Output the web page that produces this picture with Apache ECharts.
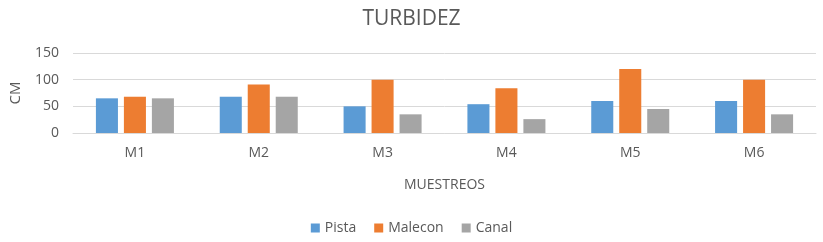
<!DOCTYPE html>
<html><head><meta charset="utf-8">
<script src="https://cdn.jsdelivr.net/npm/echarts@6/dist/echarts.min.js"></script>
<style>html,body{margin:0;padding:0;background:#fff}#c{width:823px;height:242px}</style>
</head><body><div id="c"></div>
<script>
const categories = ['M1','M2','M3','M4','M5','M6'];
const pista = [65, 68, 50, 54, 60, 60];
const malecon = [68, 91, 100, 84, 120, 100];
const canal = [65, 68, 35, 26, 45, 35];
const yTicks = [0, 50, 100, 150];

const font = 'Open Sans';
const chart = echarts.init(document.getElementById('c'), null, {renderer:'canvas'});
chart.setOption({
  animation: false,
  title: { text: 'TURBIDEZ', left: 'center', top: 4,
    textStyle: { fontFamily: font, fontSize: 21, fontWeight: 'normal', color: '#595959' } },
  legend: { bottom: 2, left: 'center', itemWidth: 9, itemHeight: 9, itemGap: 18, icon: 'rect',
    textStyle: { fontFamily: font, fontSize: 14, color: '#595959' } },
  grid: { left: 70, right: 7, top: 53, bottom: 109 },
  xAxis: { type: 'category', data: categories,
    name: 'MUESTREOS', nameLocation: 'middle', nameGap: 45,
    nameTextStyle: { fontFamily: font, fontSize: 14, color: '#595959' },
    axisLine: { lineStyle: { color: '#d9d9d9' } }, axisTick: { show: false },
    axisLabel: { fontFamily: font, fontSize: 14, color: '#595959', margin: 13 } },
  yAxis: { type: 'value', min: yTicks[0], max: yTicks[yTicks.length-1], interval: 50,
    name: 'CM', nameLocation: 'middle', nameGap: 50, nameRotate: 90,
    nameTextStyle: { fontFamily: font, fontSize: 15, color: '#595959' },
    axisLine: { show: false }, axisTick: { show: false },
    axisLabel: { fontFamily: font, fontSize: 14, color: '#595959', margin: 14 },
    splitLine: { lineStyle: { color: '#d9d9d9', width: 1 } } },
  series: [
    { name: 'Pista', type: 'bar', data: pista, itemStyle: { color: '#5b9bd5' }, barGap: '27%', barCategoryGap: '37%' },
    { name: 'Malecon', type: 'bar', data: malecon, itemStyle: { color: '#ed7d31' } },
    { name: 'Canal', type: 'bar', data: canal, itemStyle: { color: '#a5a5a5' } }
  ]
});
</script></body></html>
